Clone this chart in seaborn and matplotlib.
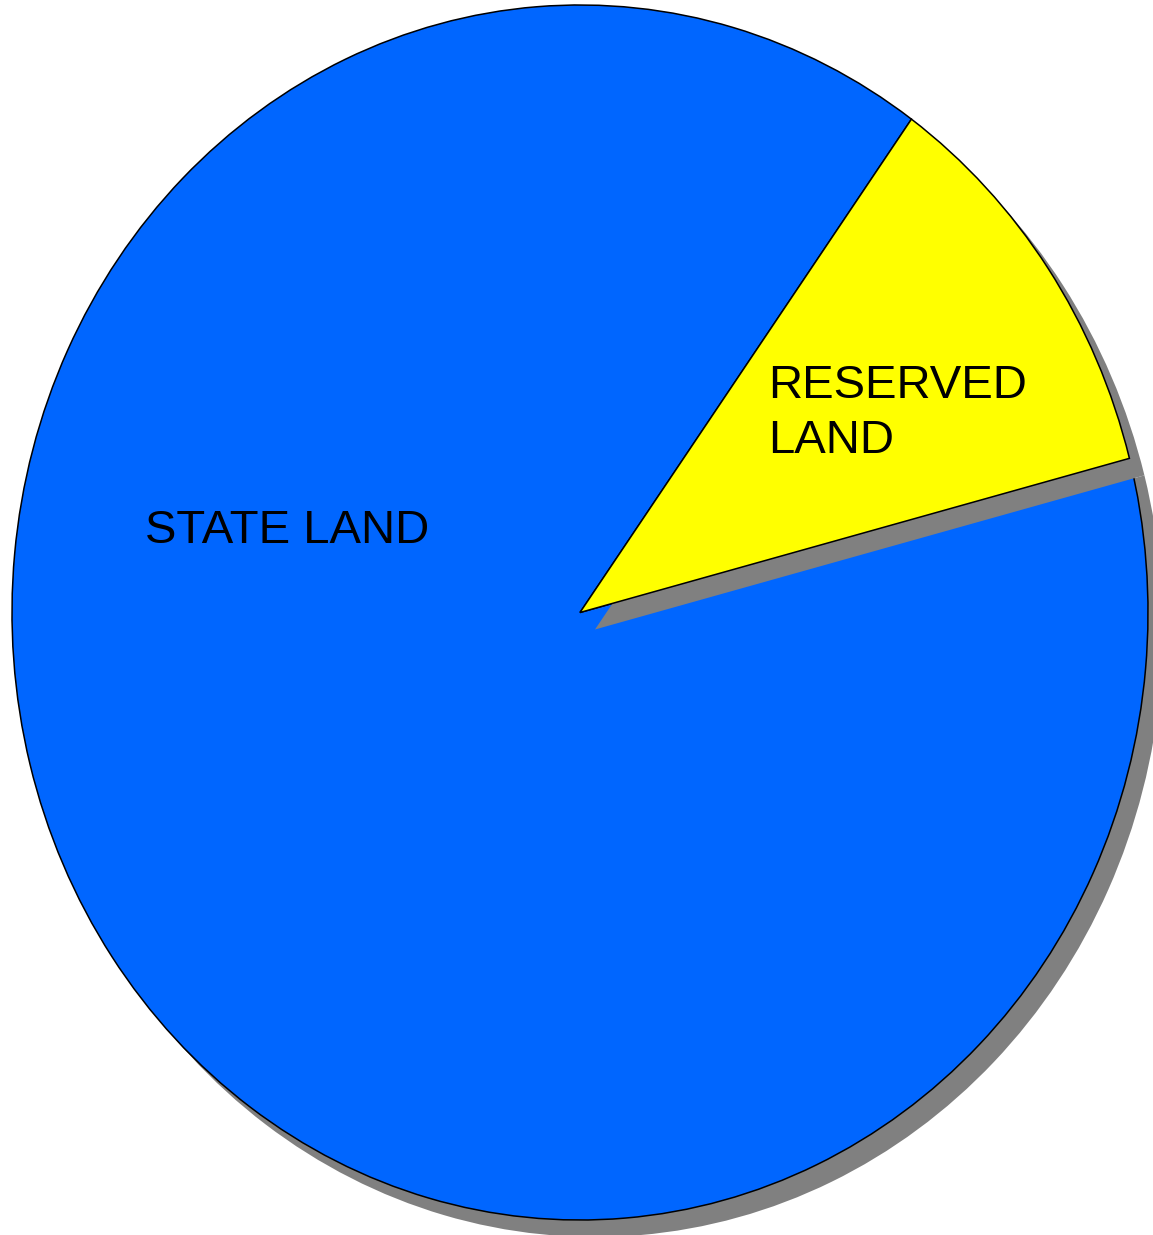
import matplotlib
matplotlib.use("Agg")
import matplotlib.pyplot as plt
import seaborn as sns

# land share (percent)
categories = ["RESERVED\nLAND", "STATE LAND"]
values = [11, 89]
colors = ["#ffff00", "#0066ff"]
shadow_color = "#808080"

sns.set_theme(style="white")
plt.rcParams["font.family"] = ["Liberation Sans", "DejaVu Sans"]

W, H = 1153, 1235
fig = plt.figure(figsize=(W / 100, H / 100), dpi=100)
ax = fig.add_axes([0, 0, 1, 1])

# pie radius in pixels and centre (from top-left)
rx, ry = 568, 607.5
cx, cy = 580, 612.5
start = 14.7

# shadow offset in data units
sdx, sdy = 15 / rx, -17 / ry

shadows, _ = ax.pie(values, colors=[shadow_color] * 2, startangle=start,
                    center=(sdx, sdy), radius=1,
                    wedgeprops=dict(linewidth=0))
wedges, _ = ax.pie(values, colors=colors, startangle=start,
                   center=(0, 0), radius=1,
                   wedgeprops=dict(edgecolor="black", linewidth=1.1))

# draw order: blue shadow, blue, yellow shadow, yellow
shadows[1].set_zorder(1)
wedges[1].set_zorder(2)
shadows[0].set_zorder(3)
wedges[0].set_zorder(4)

ax.set_aspect("auto")
ax.set_xlim(-cx / rx, (W - cx) / rx)
ax.set_ylim(-(H - cy) / ry, cy / ry)
ax.axis("off")

fig.text(145 / W, 1 - 543 / H, categories[1], fontsize=34,
         ha="left", va="baseline", color="black")
lines = categories[0].split("\n")
fig.text(768 / W, 1 - 398 / H, lines[0], fontsize=34,
         ha="left", va="baseline", color="black")
fig.text(768 / W, 1 - 453 / H, lines[1], fontsize=34,
         ha="left", va="baseline", color="black")

fig.savefig("out.png", dpi=100)
